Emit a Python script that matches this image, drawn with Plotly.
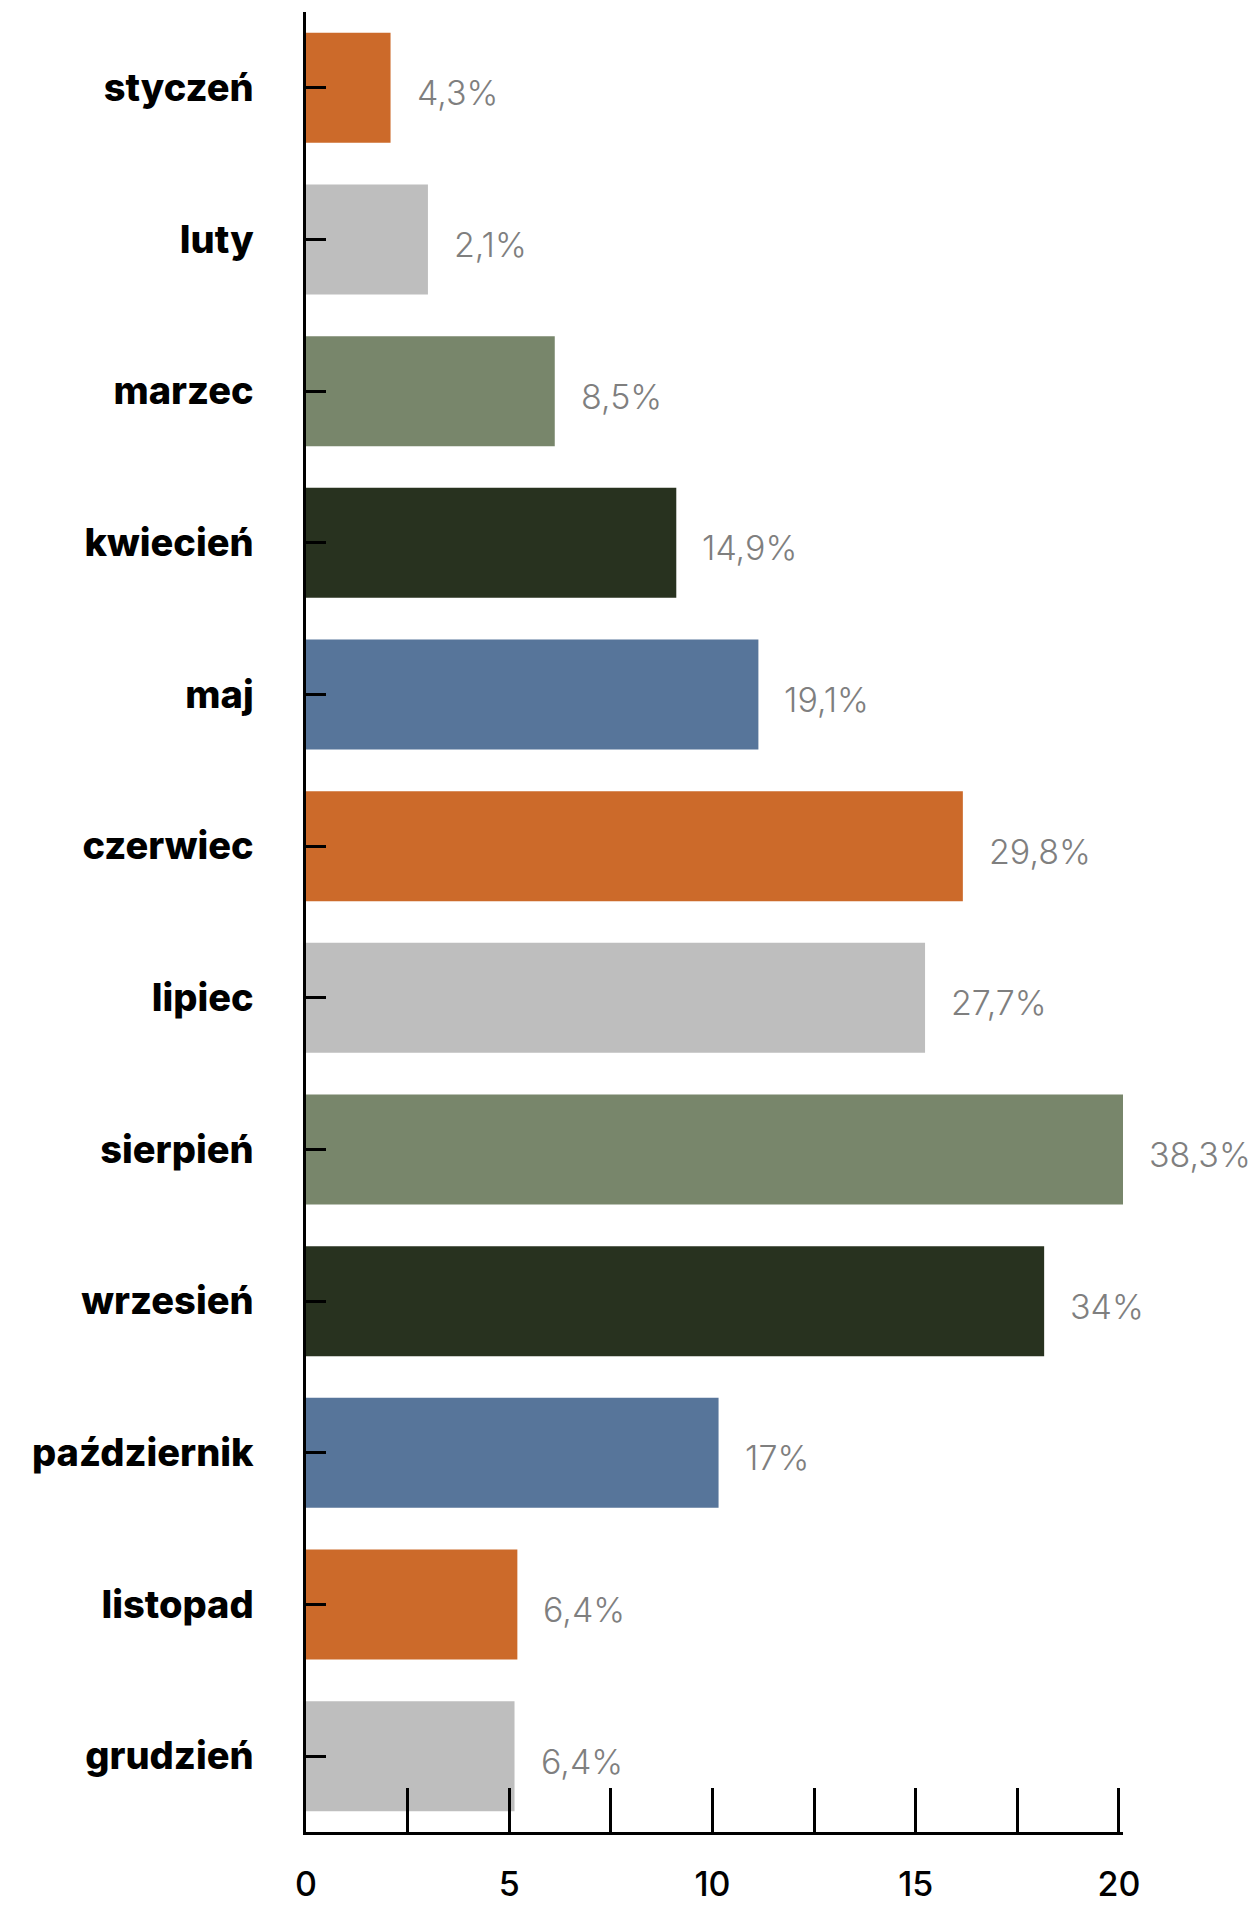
import plotly.graph_objects as go

months = ["styczeń", "luty", "marzec", "kwiecień", "maj", "czerwiec",
          "lipiec", "sierpień", "wrzesień", "październik", "listopad", "grudzień"]
values = [2.08, 3.0, 6.12, 9.11, 11.13, 16.16, 15.23, 20.1, 18.16, 10.15, 5.2, 5.13]
labels = ["4,3%", "2,1%", "8,5%", "14,9%", "19,1%", "29,8%",
          "27,7%", "38,3%", "34%", "17%", "6,4%", "6,4%"]
palette = ["#CC6A2A", "#BEBEBE", "#78866B", "#28321F", "#57759A"]
colors = [palette[i % len(palette)] for i in range(len(months))]

x_range = [0, 20.1]
x_tickvals = [0, 2.5, 5, 7.5, 10, 12.5, 15, 17.5, 20]
x_ticktext = ["0", "", "5", "", "10", "", "15", "", "20"]

fig = go.Figure()
fig.add_trace(go.Bar(
    y=months, x=values, orientation="h",
    marker=dict(color=colors, line=dict(width=0)),
    hoverinfo="skip",
))

for m, v, t in zip(months, values, labels):
    fig.add_annotation(
        x=v, y=m, text=t, showarrow=False, xanchor="left", yanchor="middle",
        xshift=24, yshift=-5,
        font=dict(family="Inter", size=34, color="#7F7F7F", weight=300),
    )

fig.update_layout(
    width=1250, height=1905,
    margin=dict(l=306, r=127, t=12, b=73, autoexpand=False),
    paper_bgcolor="white", plot_bgcolor="white",
    bargap=0.275, showlegend=False,
)
fig.update_xaxes(
    range=x_range, tickvals=x_tickvals, ticktext=x_ticktext, automargin=False,
    ticks="inside", ticklen=44, tickwidth=2.5, tickcolor="black",
    showline=True, linewidth=2.5, linecolor="black",
    showgrid=False, zeroline=False, ticklabelstandoff=20,
    tickfont=dict(family="Inter", size=34, color="black", weight=500),
)
fig.update_yaxes(
    autorange="reversed", categoryorder="array", categoryarray=months,
    automargin=False,
    ticks="inside", ticklen=20, tickwidth=2.5, tickcolor="black",
    showline=True, linewidth=2.5, linecolor="black",
    showgrid=False, zeroline=False, ticklabelstandoff=42,
    tickfont=dict(family="Inter", size=38, color="black", weight=800),
)

fig.write_html(
    "out.html",
    config={"displayModeBar": False},
    post_script="document.body.style.margin='0';document.body.style.overflow='hidden';",
)
